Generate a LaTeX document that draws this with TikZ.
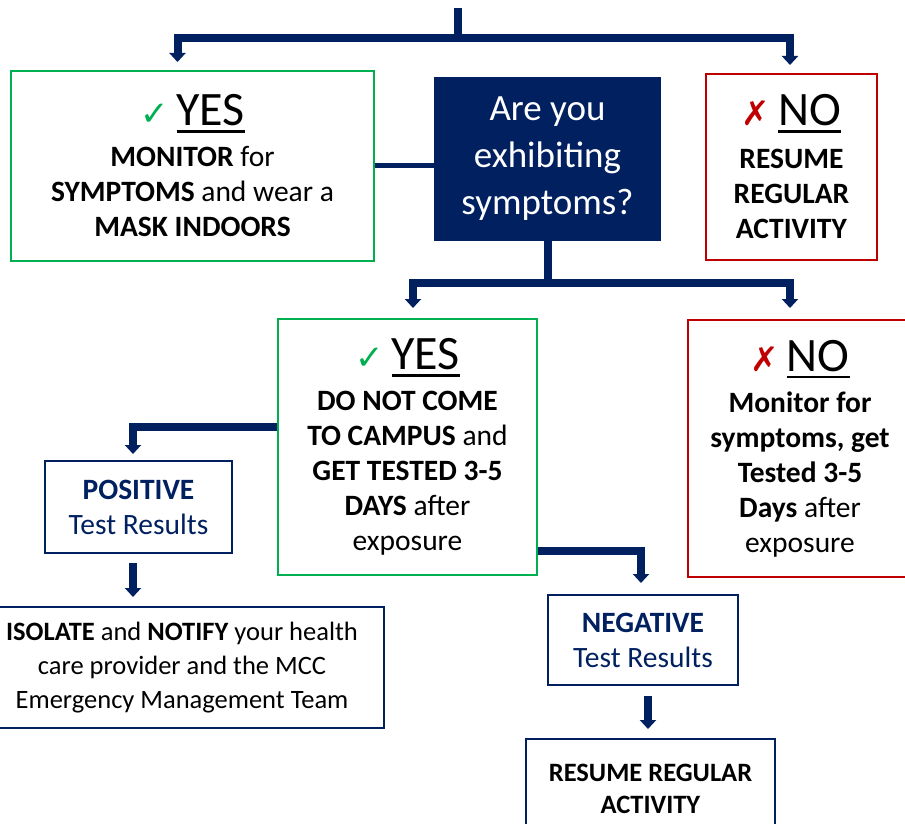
\documentclass[tikz,border=0pt]{standalone}
\usepackage{fontspec}
\setmainfont{Carlito}
\newfontfamily\symfont{DejaVu Sans}
\usetikzlibrary{arrows.meta}
\definecolor{navy}{HTML}{002060}
\definecolor{okgreen}{HTML}{00B050}
\definecolor{nored}{HTML}{C00000}
\newcommand{\undl}[1]{\vtop{\hbox{#1}\kern4pt\hrule height 2.5pt}}
\newcommand{\yeshead}{{\fontsize{48}{48}\selectfont{\symfont\fontsize{34}{34}\selectfont\color{okgreen}✓}\,\undl{YES}}}
\newcommand{\nohead}{{\fontsize{48}{48}\selectfont{\symfont\fontsize{34}{34}\selectfont\color{nored}✗}\,\undl{NO}}}
\tikzset{
	box/.style={draw,line width=2pt,align=center,inner sep=0pt,font=\fontsize{29.5}{35}\selectfont},
	yesbox/.style={box,draw=okgreen},
	nobox/.style={box,draw=nored},
	resbox/.style={box,draw=navy},
	conn/.style={navy,line width=8pt},
	arr/.style={-{Triangle[width=16pt,length=9pt]}}
}
\begin{document}
\begin{tikzpicture}[x=1pt,y=-1pt]
	\useasboundingbox (0,0) rectangle (905,824);
	\clip (0,0) rectangle (905,824);
	\node[yesbox,minimum width=363pt,minimum height=190pt] (yes1) at (192.5,166) {\yeshead\\[6pt]\textbf{MONITOR} for\\\textbf{SYMPTOMS} and wear a\\\textbf{MASK INDOORS}};
	\node[box,draw=navy,fill=navy,text=white,minimum width=225pt,minimum height=162pt,font=\fontsize{37}{47}\selectfont] (quest) at (547.5,159) {Are you\\exhibiting\\symptoms?};
	\node[nobox,minimum width=171pt,minimum height=186pt] (no1) at (791.5,167) {\nohead\\[8pt]\textbf{RESUME}\\\textbf{REGULAR}\\\textbf{ACTIVITY}};
	\node[yesbox,minimum width=259pt,minimum height=256pt] (yes2) at (407.5,447) {\yeshead\\[6pt]\textbf{DO NOT COME}\\\textbf{TO CAMPUS} and\\\textbf{GET TESTED 3-5}\\\textbf{DAYS} after\\exposure};
	\node[nobox,minimum width=224pt,minimum height=257pt] (no2) at (800,448.5) {\nohead\\[6pt]\textbf{Monitor for}\\\textbf{symptoms, get}\\\textbf{Tested 3-5}\\\textbf{Days} after\\exposure};
	\node[resbox,text=navy,minimum width=187pt,minimum height=92pt] (pos) at (138.5,507) {\textbf{POSITIVE}\\Test Results};
	\node[resbox,minimum width=404pt,minimum height=121pt,font=\fontsize{26.5}{34}\selectfont] (iso) at (182,667.5) {\textbf{ISOLATE} and \textbf{NOTIFY} your health\\care provider and the MCC\\Emergency Management Team};
	\node[resbox,text=navy,minimum width=190pt,minimum height=90pt] (neg) at (643,640) {\textbf{NEGATIVE}\\Test Results};
	\node[resbox,minimum width=249pt,minimum height=100pt,font=\fontsize{26.5}{32}\selectfont] (res) at (650.5,789) {\textbf{RESUME REGULAR}\\\textbf{ACTIVITY}};
	\coordinate (start) at (458,8);
	\draw[conn] (start) -- (458,38) coordinate (split1);
	\draw[conn,arr,shorten >=8pt] (split1) -| ([xshift=-15pt]yes1.north);
	\draw[conn,arr,shorten >=8pt] (split1) -| ([xshift=-1.5pt]no1.north);
	\draw[navy,line width=5pt] (yes1.east) -- (yes1.east -| quest.west);
	\draw[conn] (quest.south) -- ++(0,42) coordinate (split2);
	\draw[conn,arr,shorten >=10pt] (split2) -| ([xshift=5.5pt]yes2.north);
	\draw[conn,arr,shorten >=11pt] (split2) -| ([xshift=-10pt]no2.north);
	\draw[conn,arr,shorten >=6pt] ([yshift=20pt]yes2.west) -| ([xshift=-5.5pt]pos.north);
	\draw[conn,arr,shorten <=9pt,shorten >=9pt] ([xshift=-5.5pt]pos.south) -- ([xshift=-5.5pt]pos.south |- iso.north);
	\draw[conn,arr,shorten >=11pt] ([yshift=-104pt]yes2.east) -| ([xshift=-2pt]neg.north);
	\draw[conn,arr,shorten <=10pt,shorten >=9pt] ([xshift=5pt]neg.south) -- ([xshift=5pt]neg.south |- res.north);
\end{tikzpicture}
\end{document}
